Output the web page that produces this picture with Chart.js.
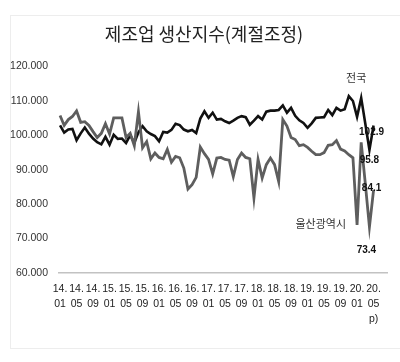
<!DOCTYPE html>
<html><head><meta charset="utf-8">
<script src="https://cdn.jsdelivr.net/npm/chart.js@4"></script>
<style>
html,body{margin:0;padding:0;background:#fff;}
#wrap{position:relative;width:400px;height:362px;}
#frame{position:absolute;left:10px;top:15px;width:390px;height:334px;border:1px solid #ededed;border-right:none;box-sizing:border-box;}
canvas{position:absolute;left:0;top:0;}
</style></head><body>
<div id="wrap"><div id="frame"></div><canvas id="c" width="400" height="362"></canvas></div>
<script>
const months = ['14.01','14.02','14.03','14.04','14.05','14.06','14.07','14.08','14.09','14.10','14.11','14.12',
'15.01','15.02','15.03','15.04','15.05','15.06','15.07','15.08','15.09','15.10','15.11','15.12',
'16.01','16.02','16.03','16.04','16.05','16.06','16.07','16.08','16.09','16.10','16.11','16.12',
'17.01','17.02','17.03','17.04','17.05','17.06','17.07','17.08','17.09','17.10','17.11','17.12',
'18.01','18.02','18.03','18.04','18.05','18.06','18.07','18.08','18.09','18.10','18.11','18.12',
'19.01','19.02','19.03','19.04','19.05','19.06','19.07','19.08','19.09','19.10','19.11','19.12',
'20.01','20.02','20.03','20.04','20.05'];
const national = [102.9,100.8,101.7,101.9,98.6,100.6,102.3,100.5,99.1,98.0,97.4,99.6,
97.3,100.2,99.0,99.1,97.8,100.1,97.8,100.9,102.7,101.2,100.4,99.8,
98.3,101.0,100.8,101.6,103.4,103.0,101.7,101.2,101.6,100.7,104.9,107.0,
105.1,106.6,104.6,104.8,104.1,103.6,104.3,105.1,105.6,105.3,103.1,104.3,
105.6,104.6,106.9,107.2,107.2,107.4,108.7,106.6,108.0,105.7,104.4,103.6,
102.2,103.5,105.1,105.2,105.3,107.4,105.9,108.0,107.2,107.6,111.4,110.0,
105.4,110.9,103.4,95.8,102.9];
const ulsan = [105.8,102.9,104.6,105.5,107.1,103.8,104.0,102.9,101.1,99.4,100.6,103.4,
100.4,105.1,105.1,105.1,99.4,100.6,97.0,106.9,96.4,98.2,93.2,94.9,
93.6,93.2,95.9,92.2,93.9,93.5,90.5,84.4,85.7,87.8,96.6,94.7,
93.0,88.8,93.4,93.6,93.0,92.8,88.0,93.0,94.9,93.6,93.2,81.8,
93.0,87.6,91.5,93.4,91.5,86.6,104.6,102.7,99.4,98.8,97.0,97.3,
96.5,95.4,94.4,94.4,95.0,97.1,97.3,98.5,96.0,95.5,94.4,93.5,
74.0,98.0,86.0,73.4,84.1];
const seriesNames = ['전국','울산광역시'];
const yMin = 60, yMax = 120, yStep = 10;
const tickEvery = 4;
const emptySlots = ['','',''];
const xLabels = months.concat(emptySlots);

const notes = [
  {ds:0, idx:76, value:true, dx:-2, dy:7, align:'center'},
  {ds:0, idx:75, value:true, dx:0, dy:10, align:'center'},
  {ds:1, idx:76, value:true, dx:-2, dy:-2, align:'center'},
  {ds:1, idx:75, value:true, dx:-3, dy:23, align:'center'},
  {ds:0, idx:73, value:false, dx:-5, dy:-20, align:'center'},
  {ds:1, idx:72, value:false, dx:-11, dy:-1, align:'right'}
];

const notePlugin = {
  id:'notes',
  afterLayout(chart){
    const t = chart.titleBlock;
    if (t) { t.left += 20; }
  },
  afterDatasetsDraw(chart){
    const ctx = chart.ctx, xs = chart.scales.x, ys = chart.scales.y;
    ctx.save();
    ctx.textBaseline = 'middle';
    notes.forEach(n => {
      const series = chart.data.datasets[n.ds].data;
      const v = series[n.idx];
      const x = xs.getPixelForValue(n.idx) + n.dx;
      const y = ys.getPixelForValue(v) + n.dy;
      ctx.textAlign = n.align;
      if (n.value) {
        ctx.font = "bold 10px 'Liberation Sans', Arial, sans-serif";
        ctx.fillStyle = '#111';
        ctx.fillText(v.toFixed(1), x, y);
      } else {
        ctx.font = "11px 'Noto Sans CJK KR', sans-serif";
        ctx.fillStyle = '#333';
        ctx.fillText(seriesNames[n.ds], x, y);
      }
    });
    ctx.restore();
  }
};

new Chart(document.getElementById('c'), {
  type:'line',
  data:{labels:xLabels, datasets:[
    {label:seriesNames[0], data:national, borderColor:'#111', borderWidth:2.6, pointRadius:0, tension:0, order:2, fill:false},
    {label:seriesNames[1], data:ulsan, borderColor:'#5e5e5e', borderWidth:2.8, pointRadius:0, tension:0, order:1, fill:false}
  ]},
  options:{
    responsive:false, animation:false, devicePixelRatio:1,
    layout:{padding:{top:15,left:0,right:12,bottom:19}},
    plugins:{
      legend:{display:false}, tooltip:{enabled:false},
      title:{display:true, text:'제조업 생산지수(계절조정)', color:'#222',
        font:{family:"'Noto Sans CJK KR', sans-serif", size:18, weight:'normal'}, padding:{top:8,bottom:22}}
    },
    scales:{
      x:{offset:true, grid:{display:false}, border:{display:false},
        ticks:{autoSkip:false, maxRotation:0, minRotation:0, padding:1, color:'#222',
          font:{family:"'Liberation Sans', Arial, sans-serif", size:10.5, lineHeight:1.4},
          callback:function(v,i){
            if (i % tickEvery !== 0 || i >= months.length) return '';
            const parts = months[i].split('.');
            const lines = [parts[0]+'.', parts[1]];
            if (i === months.length-1) lines.push('p)');
            return lines;
          }},
        afterFit(s){ s.height = 70; }
      },
      y:{min:yMin, max:yMax, border:{display:false},
        grid:{drawTicks:false, lineWidth:1.5,
          color:(c)=> (c.tick && c.tick.value === yMin) ? '#c2c2c2' : 'rgba(0,0,0,0)'},
        ticks:{stepSize:yStep, padding:10, color:'#333',
          font:{family:"'Liberation Sans', Arial, sans-serif", size:10.5},
          callback:v=>Number(v).toFixed(3)},
        afterFit(s){ s.width = 58; }
      }
    }
  },
  plugins:[notePlugin]
});
</script>
</body></html>
